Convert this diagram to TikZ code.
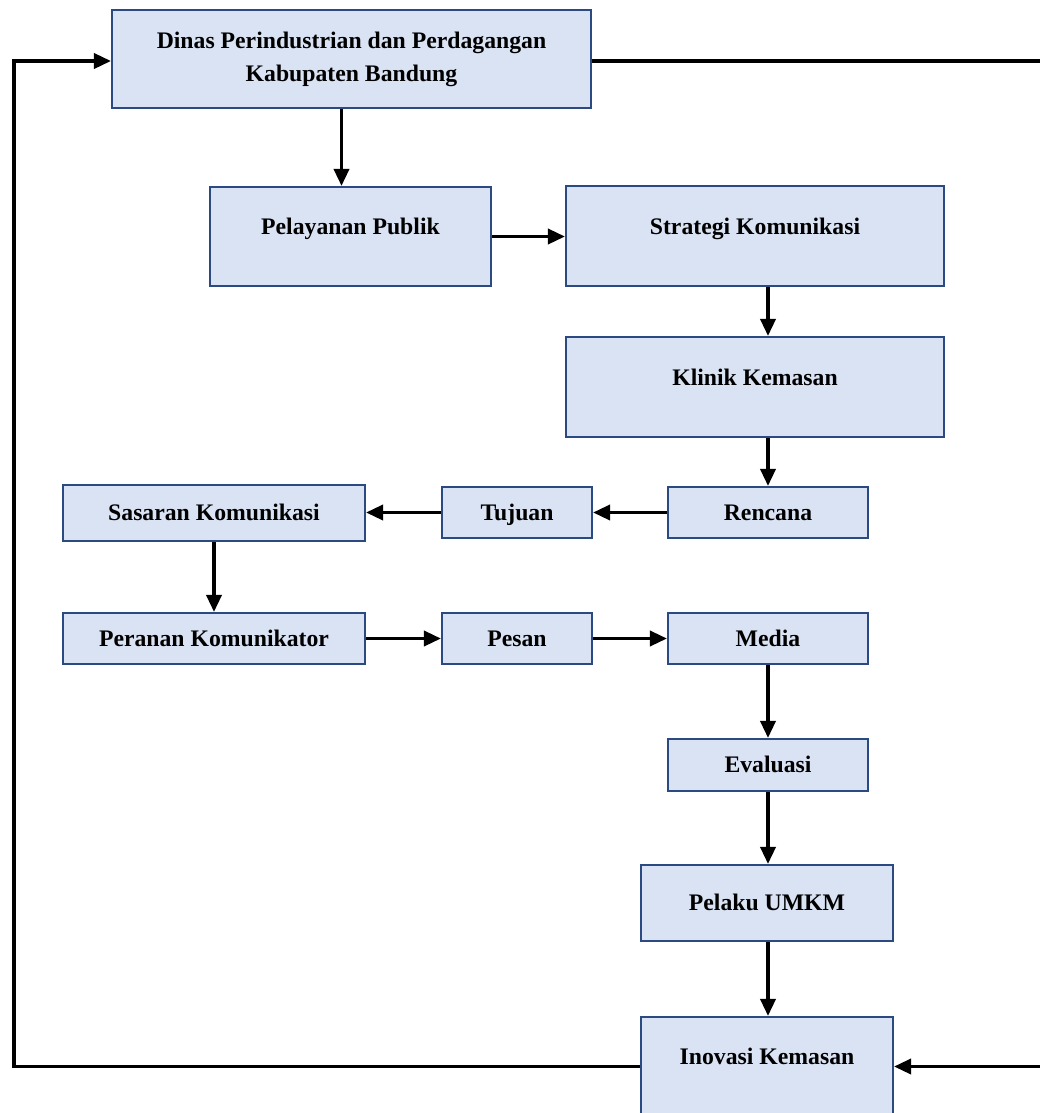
\documentclass[tikz,border=0pt]{standalone}
\usepackage{fontspec}
\setmainfont{Liberation Serif}
\usepackage{tikz}
\usetikzlibrary{arrows.meta, positioning}

\definecolor{boxfill}{RGB}{218,227,243}
\definecolor{boxline}{RGB}{44,74,130}

\begin{document}
\begin{tikzpicture}[x=0.02cm,y=-0.02cm,
 box/.style={rectangle,draw=boxline,fill=boxfill,line width=1.2pt,
  font=\bfseries\fontsize{13.5}{18.7}\selectfont,align=center,
  text height=9pt,text depth=0pt},
 tall box/.style={box,text depth=11pt},
 arrow/.style={line width=2pt,-{Triangle[length=0.34cm,width=0.3cm]}},
 rail/.style={line width=2pt}]
  \useasboundingbox (0,0) rectangle (1040,1113);

  % boxes
  \node[box,text height=,text depth=,minimum width=9.58cm,minimum height=1.96cm] (dinas) at (351.5,59)
   {Dinas Perindustrian dan Perdagangan\\Kabupaten Bandung};
  \node[tall box,minimum width=5.62cm,minimum height=1.98cm] (pelayanan) at (350.5,236.5) {Pelayanan Publik};
  \node[tall box,minimum width=7.56cm,minimum height=2cm] (strategi) at (755,236) {Strategi Komunikasi};
  \node[tall box,minimum width=7.56cm,minimum height=2cm] (klinik) at (755,387) {Klinik Kemasan};
  \node[box,minimum width=4cm,minimum height=1.02cm] (rencana) at (768,512.5) {Rencana};
  \node[box,minimum width=3cm,minimum height=1.02cm] (tujuan) at (517,512.5) {Tujuan};
  \node[box,minimum width=6.04cm,minimum height=1.12cm] (sasaran) at (214,513) {Sasaran Komunikasi};
  \node[box,minimum width=6.04cm,minimum height=1.02cm] (peranan) at (214,638.5) {Peranan Komunikator};
  \node[box,minimum width=3cm,minimum height=1.02cm] (pesan) at (517,638.5) {Pesan};
  \node[box,minimum width=4cm,minimum height=1.02cm] (media) at (768,638.5) {Media};
  \node[box,minimum width=4cm,minimum height=1.04cm] (evaluasi) at (768,765) {Evaluasi};
  \node[box,minimum width=5.04cm,minimum height=1.52cm] (pelaku) at (767,903) {Pelaku UMKM};
  \node[tall box,minimum width=5.04cm,minimum height=1.98cm] (inovasi) at (767,1066.5) {Inovasi Kemasan};

  \coordinate (railL) at (14,0);
  \coordinate (railR) at (1042,0);

  % main flow
  \draw[arrow] ([xshift=-0.2cm]dinas.south) -- ([xshift=-0.2cm]dinas.south |- pelayanan.north);
  \draw[arrow] (pelayanan.east) -- (pelayanan.east -| strategi.west);
  \draw[arrow] (rencana |- strategi.south) -- (rencana |- klinik.north);
  \draw[arrow] (rencana |- klinik.south) -- (rencana.north);
  \draw[arrow] (rencana.west) -- (tujuan.east);
  \draw[arrow] (tujuan.west) -- (tujuan.west -| sasaran.east);
  \draw[arrow] (sasaran.south) -- (peranan.north);
  \draw[arrow] (peranan.east) -- (pesan.west);
  \draw[arrow] (pesan.east) -- (media.west);
  \draw[arrow] (media.south) -- (evaluasi.north);
  \draw[arrow] (evaluasi.south) -- (evaluasi.south |- pelaku.north);
  \draw[arrow] (evaluasi.south |- pelaku.south) -- (evaluasi.south |- inovasi.north);

  % feedback loops
  \draw[arrow] (inovasi.west) -- (inovasi.west -| railL) -- ([yshift=-0.04cm]dinas.west -| railL)
   -- ([yshift=-0.04cm]dinas.west);
  \draw[arrow] ([yshift=-0.04cm]dinas.east) -- ([yshift=-0.04cm]dinas.east -| railR)
   -- (inovasi.east -| railR) -- (inovasi.east);
\end{tikzpicture}
\end{document}
